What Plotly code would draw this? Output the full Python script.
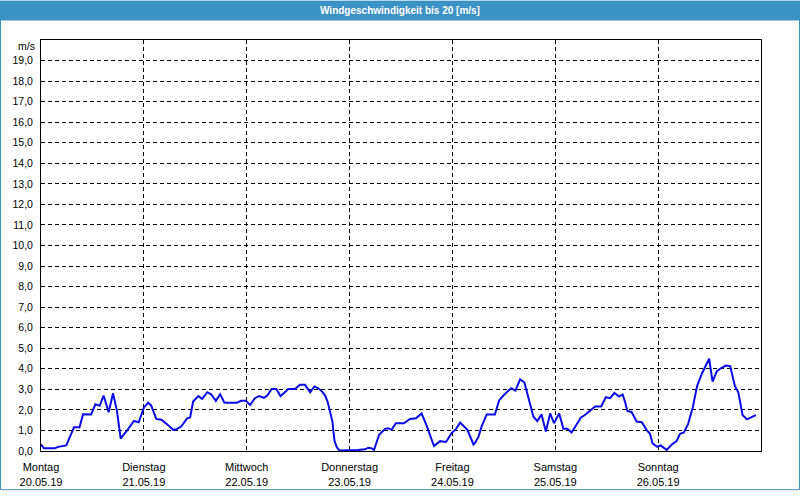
import plotly.graph_objects as go

# Hours since Monday 20.05.19 00:00 and wind speed (m/s)
hours = [0.0, 0.7, 3.2, 4.0, 5.9, 6.7, 7.7, 9.0, 9.8, 11.7, 12.7, 13.7, 14.6, 15.8, 16.8, 17.7,
         18.6, 19.9, 21.7, 22.8, 24.0, 25.0, 25.7, 26.9, 28.1, 29.6, 30.8, 31.6, 32.7, 34.1,
         34.8, 35.5, 36.7, 37.6, 38.8, 39.7, 40.8, 41.8, 42.8, 45.7, 46.7, 47.8, 48.8, 49.9,
         50.9, 52.0, 52.8, 53.8, 54.9, 55.9, 56.9, 57.7, 59.3, 60.4, 61.6, 62.8, 63.8, 64.7,
         65.6, 66.3, 66.9, 67.4, 68.0, 68.2, 68.5, 69.0, 69.6, 74.0, 75.6, 76.4, 77.2, 77.7,
         78.9, 80.3, 81.0, 81.8, 82.8, 84.7, 86.1, 87.5, 88.8, 90.0, 91.7, 93.1, 94.5, 95.8,
         96.8, 97.8, 99.5, 100.9, 101.3, 102.1, 102.8, 104.0, 105.9, 106.9, 107.9, 109.7,
         110.7, 111.8, 112.8, 113.9, 114.9, 115.8, 116.8, 117.8, 118.8, 119.7, 120.9, 121.9,
         122.8, 123.8, 126.0, 126.9, 128.3, 129.3, 130.7, 131.8, 132.8, 133.8, 134.9, 135.5,
         135.7, 136.3, 136.8, 137.8, 139.0, 140.2, 141.3, 142.1, 142.7, 143.7, 144.6, 146.0,
         147.2, 148.3, 149.1, 150.0, 151.0, 152.1, 153.1, 154.2, 154.9, 155.9, 156.7, 157.7,
         158.8, 159.8, 160.8, 161.9, 162.7, 163.7, 164.7, 165.8, 166.8]
speed = [0.32, 0.13, 0.13, 0.20, 0.27, 0.63, 1.16, 1.16, 1.79, 1.78, 2.27, 2.20, 2.70, 1.89, 2.81, 1.98,
         0.60, 0.95, 1.46, 1.40, 2.11, 2.35, 2.22, 1.56, 1.52, 1.27, 1.03, 1.06, 1.19, 1.59,
         1.63, 2.41, 2.67, 2.54, 2.86, 2.76, 2.44, 2.76, 2.35, 2.35, 2.44, 2.44, 2.24, 2.57,
         2.67, 2.59, 2.70, 3.02, 3.02, 2.67, 2.86, 3.02, 3.02, 3.22, 3.22, 2.86, 3.14, 3.05,
         2.89, 2.70, 2.38, 1.98, 1.43, 1.00, 0.48, 0.19, 0.03, 0.05, 0.08, 0.16, 0.13, 0.05,
         0.79, 1.08, 1.11, 1.03, 1.35, 1.35, 1.56, 1.59, 1.83, 1.22, 0.24, 0.48, 0.44, 0.87,
         1.06, 1.38, 1.03, 0.32, 0.40, 0.70, 1.19, 1.78, 1.78, 2.46, 2.70, 3.06,
         2.94, 3.49, 3.33, 2.46, 1.67, 1.46, 1.78, 0.95, 1.83, 1.35, 1.83, 1.08,
         1.08, 0.90, 1.63, 1.75, 2.02, 2.17, 2.17, 2.62, 2.57, 2.83, 2.65, 2.76,
         2.75, 2.38, 1.95, 1.90, 1.43, 1.40, 1.03, 0.84, 0.37, 0.21, 0.27, 0.05,
         0.32, 0.48, 0.84, 0.90, 1.32, 2.14, 3.17, 3.76, 4.05, 4.49, 3.38, 3.89,
         4.05, 4.16, 4.13, 3.17, 2.86, 1.75, 1.54, 1.67, 1.75]

day_ticks = [0, 24, 48, 72, 96, 120, 144]
day_names = ["Montag", "Dienstag", "Mittwoch", "Donnerstag", "Freitag", "Samstag", "Sonntag"]
day_dates = ["20.05.19", "21.05.19", "22.05.19", "23.05.19", "24.05.19", "25.05.19", "26.05.19"]
y_ticks = list(range(0, 20))
y_labels = [f"{v},0" for v in y_ticks]

title_text = "Windgeschwindigkeit bis 20 [m/s]"
blue = "rgb(61,146,197)"
FONT = "Liberation Sans"

W, H = 800, 500
L, R, T, B = 41, 39, 40, 40
pw, ph = W - L - R, H - T - B


def px(xp):
    return (xp - L) / pw


def py(yp):
    return (H - B - yp) / ph


fig = go.Figure()
fig.add_trace(go.Scatter(x=hours, y=speed, mode="lines",
                         line=dict(color="rgb(10,10,230)", width=2), hoverinfo="skip"))

fig.update_layout(
    width=W, height=H,
    margin=dict(l=L, r=R, t=T, b=B, pad=0),
    autosize=False,
    paper_bgcolor="white", plot_bgcolor="white",
    showlegend=False,
    font=dict(family=FONT, size=11, color="black"),
    xaxis=dict(range=[0, 168], tickmode="array", tickvals=day_ticks,
               ticktext=[f"{n}<br>{d}" for n, d in zip(day_names, day_dates)],
               showgrid=True, gridcolor="black", griddash="4px,3px", gridwidth=1,
               showline=True, linecolor="black", linewidth=1, mirror=True,
               zeroline=False, ticks="", ticklabelstandoff=6,
               tickfont=dict(family=FONT, size=11)),
    yaxis=dict(range=[0, 20], tickmode="array", tickvals=y_ticks, ticktext=y_labels,
               showgrid=True, gridcolor="black", griddash="4px,3px", gridwidth=1,
               showline=True, linecolor="black", linewidth=1, mirror=True,
               zeroline=False, ticks="", ticklabelstandoff=5,
               tickfont=dict(family=FONT, size=10.5)),
    shapes=[
        dict(type="rect", xref="paper", yref="paper",
             x0=px(0), x1=px(W), y0=py(20), y1=py(0),
             fillcolor=blue, line=dict(width=0), layer="above"),
        dict(type="rect", xref="paper", yref="paper",
             x0=px(0.5), x1=px(W - 0.5), y0=py(H - 0.5), y1=py(0.5),
             line=dict(color=blue, width=1), fillcolor="rgba(0,0,0,0)", layer="above"),
    ],
    annotations=[
        dict(text=f"<b>{title_text}</b>", xref="paper", yref="paper",
             x=px(W / 2), y=py(10), xanchor="center", yanchor="middle",
             showarrow=False, font=dict(family=FONT, size=10, color="white")),
        dict(text="m/s", xref="paper", yref="paper", x=px(37), y=py(46),
             xanchor="right", yanchor="middle", showarrow=False,
             font=dict(family=FONT, size=10.5, color="black")),
    ],
)

fig.write_html("out.html")
